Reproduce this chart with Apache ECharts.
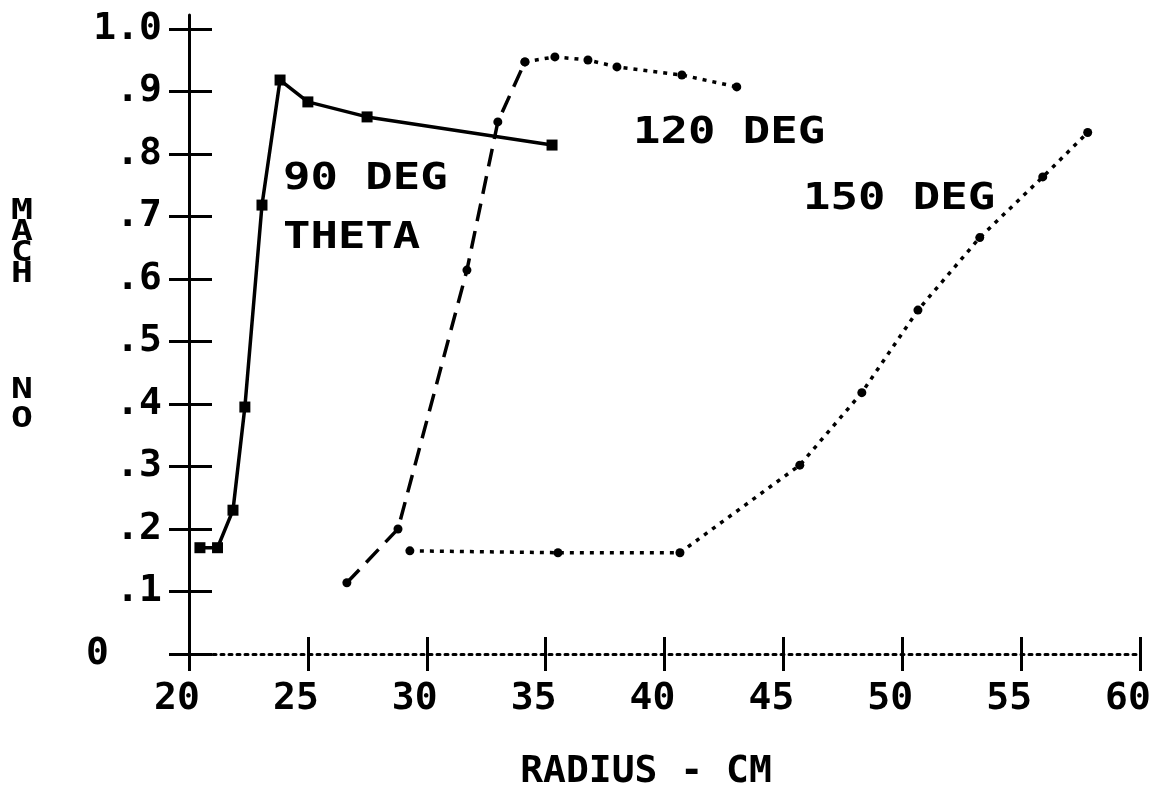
<!DOCTYPE html>
<html>
<head>
<meta charset="utf-8">
<script src="https://cdn.jsdelivr.net/npm/echarts@6/dist/echarts.min.js"></script>
<style>
  html, body { margin: 0; background: #fff; }
  #main { width: 1162px; height: 797px; }
</style>
</head>
<body>
<div id="main"></div>
<script>
// values (radius cm, mach no)
const xTicks = [20, 25, 30, 35, 40, 45, 50, 55, 60];
const yTicks = [0, 0.1, 0.2, 0.3, 0.4, 0.5, 0.6, 0.7, 0.8, 0.9, 1.0];
const yTickLabels = ["0", ".1", ".2", ".3", ".4", ".5", ".6", ".7", ".8", ".9", "1.0"];

const deg90 = [[20.46, 0.17], [21.2, 0.17], [21.85, 0.23], [22.35, 0.395], [23.07, 0.718],
  [23.83, 0.918], [25.0, 0.883], [27.49, 0.859], [35.27, 0.814]];
const deg120Rise = [[26.64, 0.114], [28.79, 0.2], [31.69, 0.614], [32.99, 0.851], [34.13, 0.947]];
const deg120Top = [[34.13, 0.947], [35.39, 0.955], [36.78, 0.95], [38.0, 0.939], [40.73, 0.926], [43.04, 0.907]];
const deg150 = [[29.29, 0.165], [35.52, 0.162], [40.65, 0.162], [45.69, 0.302], [48.3, 0.418],
  [50.66, 0.55], [53.26, 0.666], [55.91, 0.763], [57.8, 0.834]];

const FONT = '"DejaVu Sans Mono", "Liberation Mono", monospace';
const INK = "#000";

var myChart = echarts.init(document.getElementById("main"));

function yLabel(v) {
  for (var i = 0; i < yTicks.length; i++) {
    if (Math.abs(yTicks[i] - v) < 1e-6) {
      return yTickLabels[i] === "0" ? "{z|0}" : yTickLabels[i];
    }
  }
  return "";
}

function annot(text, x, y) {
  return {
    type: "text",
    x: x,
    y: y,
    scaleX: 1.2,
    style: {
      text: text,
      font: "bold 38px " + FONT,
      fill: INK,
      verticalAlign: "middle"
    }
  };
}

// same plot box twice: grid 0 carries the data, grid 1 only the inward half of the ticks
var box = { left: 189, right: 22, top: 15, bottom: 143, containLabel: false, outerBoundsMode: "none" };

var option = {
  animation: false,
  backgroundColor: "#fff",
  grid: [box, Object.assign({}, box)],
  xAxis: [
    {
      type: "value",
      gridIndex: 0,
      min: 20,
      max: 60,
      interval: 5,
      position: "bottom",
      axisLine: { show: true, onZero: false, lineStyle: { color: INK, width: 3, type: [3, 5] } },
      axisTick: { show: true, length: 17, lineStyle: { color: INK, width: 3 } },
      axisLabel: {
        color: INK, fontFamily: FONT, fontWeight: "bold", fontSize: 38,
        margin: 26, padding: [0, 24, 0, 0]
      },
      splitLine: { show: false },
      name: "RADIUS - CM",
      nameLocation: "middle",
      nameGap: 99,
      nameTextStyle: {
        color: INK, fontFamily: FONT, fontWeight: "bold", fontSize: 38,
        padding: [0, 37, 0, 0]
      }
    },
    {
      type: "value",
      gridIndex: 1,
      min: 20,
      max: 60,
      interval: 5,
      position: "bottom",
      axisLine: { show: true, onZero: false, lineStyle: { opacity: 0 } },
      axisTick: { show: true, inside: true, length: 17, lineStyle: { color: INK, width: 3 } },
      axisLabel: { show: false },
      splitLine: { show: false }
    }
  ],
  yAxis: [
    {
      type: "value",
      gridIndex: 0,
      min: 0,
      max: 1.022,
      position: "left",
      axisLine: { show: true, onZero: false, lineStyle: { color: INK, width: 3 } },
      axisTick: { show: true, length: 20, customValues: yTicks, lineStyle: { color: INK, width: 3 } },
      axisLabel: {
        customValues: yTicks,
        formatter: yLabel,
        color: INK, fontFamily: FONT, fontWeight: "bold", fontSize: 38,
        margin: 27,
        rich: {
          z: { color: INK, fontFamily: FONT, fontWeight: "bold", fontSize: 38, padding: [0, 53, 0, 0] }
        }
      },
      splitLine: { show: false }
    },
    {
      type: "value",
      gridIndex: 1,
      min: 0,
      max: 1.022,
      position: "left",
      axisLine: { show: true, onZero: false, lineStyle: { opacity: 0 } },
      axisTick: { show: true, inside: true, length: 23, customValues: yTicks, lineStyle: { color: INK, width: 3 } },
      axisLabel: { show: false },
      splitLine: { show: false }
    }
  ],
  graphic: [
    annot("90 DEG", 283, 179),
    annot("THETA", 283, 238),
    annot("120 DEG", 633, 133),
    annot("150 DEG", 803, 199),
    {
      type: "text", x: 11, y: 201, scaleX: 1.3,
      style: { text: "M\nA\nC\nH", font: "bold 28px " + FONT, lineHeight: 21, fill: INK }
    },
    {
      type: "text", x: 11, y: 376, scaleX: 1.3,
      style: { text: "N\nO", font: "bold 28px " + FONT, lineHeight: 29, fill: INK }
    }
  ],
  series: [
    {
      name: "90 DEG",
      type: "line",
      data: deg90,
      symbol: "rect",
      symbolSize: 11,
      showAllSymbol: true,
      lineStyle: { color: INK, width: 3.5 },
      itemStyle: { color: INK }
    },
    {
      name: "120 DEG",
      type: "line",
      data: deg120Rise,
      symbol: "circle",
      symbolSize: 9,
      lineStyle: { color: INK, width: 3.5, type: [18, 10] },
      itemStyle: { color: INK }
    },
    {
      name: "120 DEG",
      type: "line",
      data: deg120Top,
      symbol: "circle",
      symbolSize: 9,
      lineStyle: { color: INK, width: 3.5, type: [4, 6] },
      itemStyle: { color: INK }
    },
    {
      name: "150 DEG",
      type: "line",
      data: deg150,
      symbol: "circle",
      symbolSize: 9,
      lineStyle: { color: INK, width: 3.5, type: [4, 6] },
      itemStyle: { color: INK }
    }
  ]
};

myChart.setOption(option);
</script>
</body>
</html>
